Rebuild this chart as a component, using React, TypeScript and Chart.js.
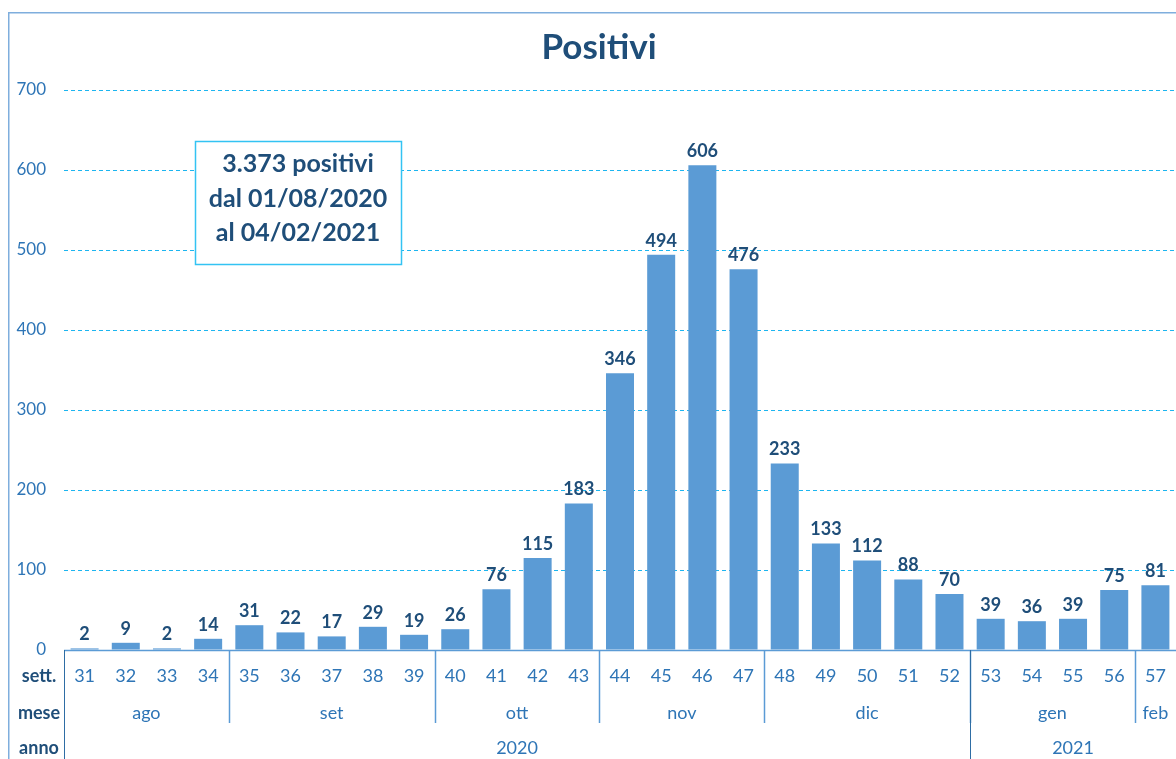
import React, { useEffect, useRef } from "react";
import { Chart, registerables } from "chart.js";

Chart.register(...registerables);

const weeks = ["31","32","33","34","35","36","37","38","39","40","41","42","43","44","45","46","47","48","49","50","51","52","53","54","55","56","57"];
const positivi = [2, 9, 2, 14, 31, 22, 17, 29, 19, 26, 76, 115, 183, 346, 494, 606, 476, 233, 133, 112, 88, 70, 39, 36, 39, 75, 81];
const months = [
  { label: "ago", count: 4 },
  { label: "set", count: 5 },
  { label: "ott", count: 4 },
  { label: "nov", count: 4 },
  { label: "dic", count: 5 },
  { label: "gen", count: 4 },
  { label: "feb", count: 1 },
];
const years = [
  { label: "2020", count: 22 },
  { label: "2021", count: 5 },
];
const titleText = "Positivi";
const noteLines = ["3.373 positivi", "dal 01/08/2020", "al 04/02/2021"];
const rowHeaders = ["sett.", "mese", "anno"];

const FONT = "Lato, 'Open Sans', sans-serif";
const DARK = "#1F4E79";
const MID = "#2E75B6";
const LINE = "#5B9BD5";

export default function App() {
  const ref = useRef<HTMLCanvasElement | null>(null);

  useEffect(() => {
    document.body.style.overflow = "hidden";
    const canvas = ref.current!;
    const W = 1200;
    const H = 780;

    const decor = {
      id: "decor",
      beforeDraw(chart: any) {
        const ctx = chart.ctx;
        ctx.save();
        ctx.fillStyle = "#ffffff";
        ctx.fillRect(0, 0, W, H);
        ctx.strokeStyle = "#7FAEDD";
        ctx.lineWidth = 1.5;
        ctx.strokeRect(0.75, 0.75, W - 1.5, H - 1.5);
        ctx.restore();
      },
      afterDraw(chart: any) {
        const ctx = chart.ctx;
        const ca = chart.chartArea;
        const xs = chart.scales.x;
        const n = weeks.length;
        const step = (ca.right - ca.left) / n;
        ctx.save();
        // title
        ctx.fillStyle = DARK;
        ctx.font = `bold 35px ${FONT}`;
        ctx.textAlign = "center";
        ctx.textBaseline = "middle";
        ctx.fillText(titleText, 591, 36);

        // x axis line
        ctx.strokeStyle = LINE;
        ctx.lineWidth = 1.5;
        ctx.beginPath();
        ctx.moveTo(ca.left, ca.bottom + 0.5);
        ctx.lineTo(ca.right + 40, ca.bottom + 0.5);
        ctx.stroke();

        // data labels
        const meta = chart.getDatasetMeta(0);
        ctx.font = `bold 18px ${FONT}`;
        ctx.fillStyle = DARK;
        ctx.textBaseline = "bottom";
        meta.data.forEach((bar: any, i: number) => {
          ctx.fillText(String(positivi[i]), bar.x, bar.y - 5);
        });

        // week labels
        const rowWeek = ca.bottom + 26;
        const rowMonth = ca.bottom + 63;
        const rowYear = ca.bottom + 98;
        ctx.font = `18px ${FONT}`;
        ctx.fillStyle = MID;
        ctx.textBaseline = "middle";
        weeks.forEach((w, i) => {
          ctx.fillText(w, xs.getPixelForValue(i), rowWeek);
        });

        // months
        let idx = 0;
        ctx.strokeStyle = LINE;
        ctx.lineWidth = 1.5;
        months.forEach((m, k) => {
          const x0 = ca.left + idx * step;
          const x1 = ca.left + (idx + m.count) * step;
          ctx.fillText(m.label, (x0 + x1) / 2, rowMonth);
          idx += m.count;
          if (k < months.length - 1) {
            ctx.beginPath();
            ctx.moveTo(Math.round(x1) + 0.5, ca.bottom);
            ctx.lineTo(Math.round(x1) + 0.5, ca.bottom + 73);
            ctx.stroke();
          }
        });

        // years
        idx = 0;
        ctx.strokeStyle = "#2E6DA4";
        ctx.lineWidth = 1;
        years.forEach((y, k) => {
          const x0 = ca.left + idx * step;
          const x1 = ca.left + (idx + y.count) * step;
          ctx.fillText(y.label, (x0 + x1) / 2, rowYear);
          idx += y.count;
          if (k < years.length - 1) {
            ctx.beginPath();
            ctx.moveTo(Math.round(x1) + 0.5, ca.bottom);
            ctx.lineTo(Math.round(x1) + 0.5, H);
            ctx.stroke();
          }
        });
        ctx.beginPath();
        ctx.moveTo(Math.round(ca.left) + 0.5, ca.bottom);
        ctx.lineTo(Math.round(ca.left) + 0.5, H);
        ctx.stroke();

        // row headers
        ctx.font = `bold 18px ${FONT}`;
        ctx.fillStyle = DARK;
        ctx.textAlign = "center";
        [rowWeek, rowMonth, rowYear].forEach((y, i) => {
          ctx.fillText(rowHeaders[i], 31, y);
        });

        // note box
        const bx = 187, by = 129, bw = 206, bh = 123;
        ctx.fillStyle = "#ffffff";
        ctx.fillRect(bx, by, bw, bh);
        ctx.strokeStyle = "#33C3F3";
        ctx.lineWidth = 1.5;
        ctx.strokeRect(bx + 0.5, by + 0.5, bw, bh);
        ctx.fillStyle = DARK;
        ctx.font = `bold 25px ${FONT}`;
        ctx.textBaseline = "middle";
        const cx = bx + bw / 2;
        noteLines.forEach((t, i) => {
          ctx.fillText(t, cx, by + 23 + i * 34.5);
        });
        ctx.restore();
      },
    };

    const chart = new Chart(canvas, {
      type: "bar",
      data: {
        labels: weeks,
        datasets: [
          {
            data: positivi,
            backgroundColor: "#5B9BD5",
            borderWidth: 0,
            categoryPercentage: 1,
            barPercentage: 0.68,
          },
        ],
      },
      options: {
        responsive: false,
        animation: false,
        devicePixelRatio: 1,
        layout: { padding: { top: 78, right: 32, left: 0, bottom: 0 } },
        plugins: {
          legend: { display: false },
          title: { display: false },
          tooltip: { enabled: false },
        },
        scales: {
          x: {
            ticks: { display: false },
            grid: { display: false },
            border: { display: false },
            afterFit: (s: any) => {
              s.height = H - 638;
            },
          },
          y: {
            min: 0,
            max: 700,
            ticks: {
              stepSize: 100,
              color: MID,
              font: { family: FONT, size: 17 },
              padding: 18,
            },
            grid: {
              drawTicks: false,
              color: (c: any) => (c.tick && c.tick.value === 0 ? "rgba(0,0,0,0)" : "#1CB5F0"),
              lineWidth: 1,
            },
            border: { display: false, dash: [4, 3] },
            afterFit: (s: any) => {
              s.width = 56;
            },
          },
        },
      },
      plugins: [decor],
    });
    return () => chart.destroy();
  }, []);

  return (
    <div style={{ position: "absolute", left: 8, top: 12, width: 1168, height: 747, overflow: "hidden" }}>
      <canvas ref={ref} width={1200} height={780} style={{ width: 1200, height: 780, display: "block" }} />
    </div>
  );
}
